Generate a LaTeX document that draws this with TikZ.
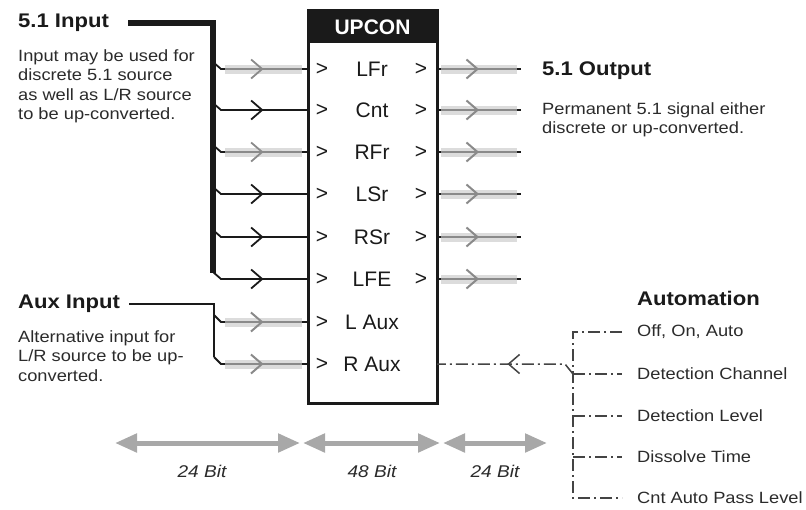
\documentclass[tikz,border=0pt]{standalone}
\usepackage{fontspec}
\setmainfont{Liberation Sans}[FakeStretch=1.12]
\newfontfamily\boxfont{Liberation Sans}
\usetikzlibrary{arrows.meta,decorations.markings}

\definecolor{upink}{HTML}{1A1A1A}
\definecolor{uptext}{HTML}{2B2B2B}
\definecolor{upwire}{HTML}{8A8A8A}
\definecolor{upband}{HTML}{DCDCDC}
\definecolor{upspan}{HTML}{A8A8A8}
\definecolor{upctrl}{HTML}{444444}
\tikzset{
  heading/.style={font=\fontsize{19.7}{22}\selectfont\bfseries, text=upink, anchor=west, inner sep=0pt},
  blurb/.style={font=\fontsize{16.3}{19.6}\selectfont, text=uptext, align=left, anchor=north west, inner sep=0pt},
  item/.style={font=\fontsize{16.3}{19.6}\selectfont, text=uptext, anchor=west, inner sep=0pt},
  port/.style={font={\boxfont\fontsize{21}{24}\selectfont}, text=upink, inner sep=0pt},
  upcon box/.style={draw=upink, fill=white, line width=3pt, minimum width=129pt, minimum height=393pt, inner sep=0pt, outer sep=0pt},
  bus/.style={upink, line width=6pt},
  wire/.style={upink, line width=1.8pt},
  gray wire/.style={upwire, line width=2pt},
  band/.style={upband, line width=9pt},
  mid chevron/.style={postaction={decorate}, decoration={markings, mark=at position #1 with {\arrow{Straight Barb[length=11pt,width=19pt]}}}},
  mid chevron/.default=0.5,
  ctrl/.style={upctrl, line width=1.5pt, dash pattern=on 12pt off 4pt on 2pt off 4pt},
  span/.style={upspan, line width=5pt, {Triangle[length=22pt,width=18pt]}-{Triangle[length=22pt,width=18pt]}},
  bits/.style={font=\fontsize{17}{20}\selectfont\itshape, text=uptext},
}

\begin{document}
\begin{tikzpicture}[x=1pt, y=-1pt]
  \fill[white] (0,0) rectangle (806,509);
  \useasboundingbox (0,0) rectangle (806,509);

  % the up-converter block
  \node[upcon box] (upcon) at (372.5,206.5) {};
  \fill[upink] (upcon.north west) rectangle ([yshift=-33pt]upcon.north east);
  \node[port, text=white, font={\boxfont\fontsize{21}{24}\selectfont\bfseries}] (title) at (372.5,27) {UPCON};
  \foreach \y/\name [count=\i] in {69/LFr,110/Cnt,152/RFr,194/LSr,237/RSr,279/LFE,322/L Aux,364/R Aux}{
    \node[port] (ch\i) at (372,\y) {\name};
    \node[port] (gt\i) at (322,\y) {>};
  }

  % 5.1 input
  \node[heading] (in51) at (18,23) {5.1 Input};
  \node[blurb] (in51 note) at (18,49) {Input may be used for\\discrete 5.1 source\\as well as L/R source\\to be up-converted.};
  \coordinate (bus end) at (213,273);
  \foreach \y/\ink/\g [count=\i] in {69/upwire/1,110/upink/0,152/upwire/1,194/upink/0,237/upink/0,279/upink/0}{
    \coordinate (l\i) at (308,\y);
    \draw[wire] (213,\y-7) -- (221,\y) -- (l\i);
    \ifnum\g=1 \draw[band] (225,\y) -- (302,\y); \fi
    \draw[wire, color=\ink, mid chevron] (225,\y) -- (302,\y);
  }
  \draw[bus] ([xshift=19pt]in51.east) -| (bus end);

  % aux input
  \node[heading] (aux) at (18,304) {Aux Input};
  \node[blurb] (aux note) at (18,330) {Alternative input for\\L/R source to be up-\\converted.};
  \coordinate (aux end) at (214,357);
  \foreach \y [count=\i from 7] in {322,364}{
    \coordinate (l\i) at (308,\y);
    \draw[wire] (214,\y-7) -- (221,\y) -- (l\i);
    \draw[band] (225,\y) -- (302,\y);
    \draw[gray wire, mid chevron] (225,\y) -- (302,\y);
  }
  \draw[wire, line width=2.8pt] ([xshift=9pt]aux.east) -| (aux end);

  % 5.1 output
  \foreach \y [count=\i] in {69,110,152,194,237,279}{
    \coordinate (r\i) at (437,\y);
    \coordinate (o\i) at (521,\y);
    \node[port] (rt\i) at (421,\y) {>};
    \draw[wire] (r\i) -- (o\i);
    \draw[band] (441,\y) -- (517,\y);
    \draw[gray wire, mid chevron] (441,\y) -- (517,\y);
  }
  \node[heading] (out51) at (542,71) {5.1 Output};
  \node[blurb] (out51 note) at (542,102) {Permanent 5.1 signal either\\discrete or up-converted.};

  % automation
  \node[heading] (auto) at (637,298) {Automation};
  \node[item] (off) at (637,332) {Off, On, Auto};
  \node[item] (chan) at (637,374) {Detection Channel};
  \node[item] (level) at (637,416) {Detection Level};
  \node[item] (dis) at (637,457) {Dissolve Time};
  \node[item] (pass) at (637,498) {Cnt Auto Pass Level};
  \coordinate (spine) at (573,0);
  \coordinate (knee) at (565,364);
  \coordinate (r8) at (437,364);
  \draw[ctrl] ([xshift=-15pt]off.west) -- (off.west -| spine) -- (pass.west -| spine) -- ([xshift=-15pt]pass.west);
  \foreach \n in {chan,level,dis}
    \draw[ctrl] (\n.west -| spine) -- ([xshift=-15pt]\n.west);
  \draw[ctrl, mid chevron] (chan.west -| spine) -- (knee) -- (r8);

  % word lengths
  \coordinate (s0) at (115,443);
  \coordinate (s1) at (300,443);
  \coordinate (s2) at (303,443);
  \coordinate (s3) at (440,443);
  \coordinate (s4) at (443,443);
  \coordinate (s5) at (547,443);
  \draw[span] (s0) -- (s1);
  \draw[span] (s2) -- (s3);
  \draw[span] (s4) -- (s5);
  \node[bits] (bits in) at (202,471) {24 Bit};
  \node[bits] (bits core) at (372,471) {48 Bit};
  \node[bits] (bits out) at (495,471) {24 Bit};
\end{tikzpicture}
\end{document}
